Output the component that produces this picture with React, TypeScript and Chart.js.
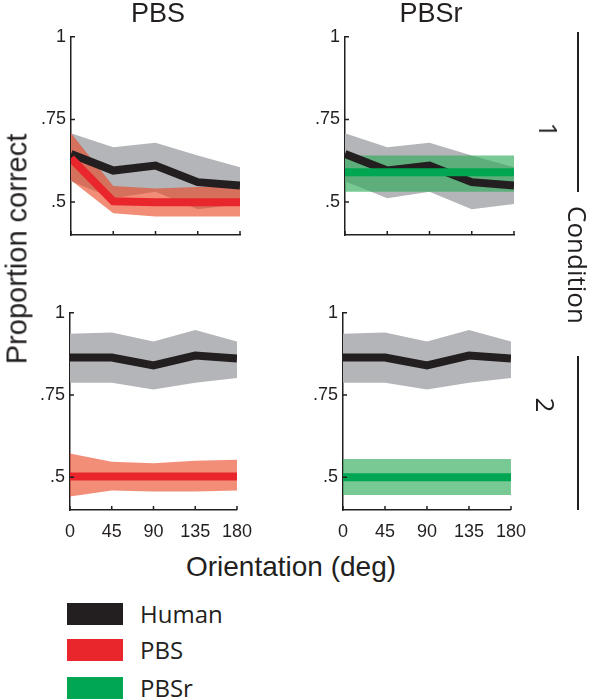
import React, { useEffect, useRef } from "react";
import { Chart, registerables } from "chart.js";
Chart.register(...registerables);

// ---- data ----
const orientations = [0, 45, 90, 135, 180];
const yTickValues = [0.5, 0.75, 1];
const yTickLabels = [".5", ".75", "1"];

// Condition 1
const human1Mean = [0.645, 0.595, 0.61, 0.56, 0.55];
const human1Upper = [0.708, 0.666, 0.679, 0.641, 0.605];
const human1Lower = [0.563, 0.511, 0.531, 0.478, 0.494];
const pbs1Mean = [0.632, 0.502, 0.499, 0.499, 0.499];
const pbs1Upper = [0.708, 0.548, 0.541, 0.545, 0.547];
const pbs1Lower = [0.566, 0.466, 0.456, 0.456, 0.456];
const pbsr1Mean = [0.59, 0.59, 0.59, 0.59, 0.59];
const pbsr1Upper = [0.641, 0.641, 0.641, 0.641, 0.641];
const pbsr1Lower = [0.531, 0.531, 0.531, 0.531, 0.531];

// Condition 2
const human2Mean = [0.864, 0.864, 0.84, 0.87, 0.861];
const human2Upper = [0.936, 0.94, 0.913, 0.948, 0.913];
const human2Lower = [0.787, 0.787, 0.767, 0.787, 0.802];
const pbs2Mean = [0.502, 0.502, 0.502, 0.502, 0.502];
const pbs2Upper = [0.572, 0.547, 0.542, 0.55, 0.553];
const pbs2Lower = [0.441, 0.459, 0.456, 0.456, 0.459];
const pbsr2Mean = [0.5, 0.5, 0.5, 0.5, 0.5];
const pbsr2Upper = [0.555, 0.555, 0.555, 0.555, 0.555];
const pbsr2Lower = [0.446, 0.446, 0.446, 0.446, 0.446];

const columnTitles = ["PBS", "PBSr"];
const conditionLabels = ["1", "2"];
const legendLabels = ["Human", "PBS", "PBSr"];

// ---- styles ----
const BLACK = "#231f20";
const GRAY = "#b3b5b8";
const RED = "#e8262b";
const RED_BAND = "rgba(234,66,28,0.6)";
const GREEN = "#00a651";
const GREEN_BAND = "rgba(44,170,87,0.64)";
const AXIS_FONT = "'Liberation Sans', Arial, Helvetica, sans-serif";
const LABEL_FONT = "'Open Sans', 'Noto Sans', sans-serif";

const YW = 50;
const XH = 40;
const PAD_T = 14;
const PAD_R = 24;

const inwardTicks = {
  id: "inwardTicks",
  afterDatasetsDraw(chart: any) {
    const { ctx, chartArea: a, scales } = chart;
    const x = scales.x;
    const y = scales.y;
    ctx.save();
    ctx.strokeStyle = BLACK;
    ctx.lineWidth = 1.5;
    ctx.beginPath();
    for (const v of orientations) {
      const px = x.getPixelForValue(v);
      ctx.moveTo(px, a.bottom);
      ctx.lineTo(px, a.bottom - 4);
    }
    for (const v of yTickValues) {
      const py = y.getPixelForValue(v);
      ctx.moveTo(a.left, py);
      ctx.lineTo(a.left + 4, py);
    }
    ctx.stroke();
    ctx.restore();
  },
};

function series(vals: number[], extra: any) {
  return {
    data: orientations.map((x, i) => ({ x, y: vals[i] })),
    pointRadius: 0,
    pointHoverRadius: 0,
    tension: 0,
    borderWidth: 0,
    borderColor: "transparent",
    fill: false,
    ...extra,
  };
}

type PanelProps = {
  left: number;
  top: number;
  width: number;
  height: number;
  hM: number[];
  hU: number[];
  hL: number[];
  mM: number[];
  mU: number[];
  mL: number[];
  lineColor: string;
  bandColor: string;
  showX: boolean;
};

function Panel(p: PanelProps) {
  const ref = useRef<HTMLCanvasElement | null>(null);
  useEffect(() => {
    if (!ref.current) return;
    const chart = new Chart(ref.current, {
      type: "line",
      data: {
        datasets: [
          series(p.hU, { fill: "+1", backgroundColor: GRAY, order: 6 }),
          series(p.hL, { order: 6 }),
          series(p.mU, { fill: "+1", backgroundColor: p.bandColor, order: 5 }),
          series(p.mL, { order: 5 }),
          series(p.hM, { borderColor: BLACK, borderWidth: 8, order: 4 }),
          series(p.mM, { borderColor: p.lineColor, borderWidth: 8, order: 3 }),
        ] as any,
      },
      options: {
        animation: false,
        responsive: true,
        maintainAspectRatio: false,
        events: [],
        layout: { padding: { left: 0, top: PAD_T, right: PAD_R, bottom: 0 } },
        plugins: { legend: { display: false }, tooltip: { enabled: false } },
        scales: {
          x: {
            type: "linear",
            min: 0,
            max: 180,
            afterBuildTicks: (s: any) => {
              s.ticks = orientations.map((v) => ({ value: v }));
            },
            afterFit: (s: any) => {
              s.height = XH;
            },
            grid: { display: false, drawTicks: false },
            border: { display: true, color: BLACK, width: 1.5 },
            ticks: {
              display: p.showX,
              color: BLACK,
              padding: 11,
              maxRotation: 0,
              autoSkip: false,
              font: { family: AXIS_FONT, size: 18 },
              callback: (v: any) => String(v),
            },
          },
          y: {
            type: "linear",
            min: 0.4,
            max: 1,
            afterBuildTicks: (s: any) => {
              s.ticks = yTickValues.map((v) => ({ value: v }));
            },
            afterFit: (s: any) => {
              s.width = YW;
            },
            grid: { display: false, drawTicks: false },
            border: { display: true, color: BLACK, width: 1.5 },
            ticks: {
              color: BLACK,
              padding: 5,
              autoSkip: false,
              font: { family: AXIS_FONT, size: 18 },
              callback: (_v: any, i: number) => yTickLabels[i],
            },
          },
        },
      } as any,
      plugins: [inwardTicks],
    });
    return () => chart.destroy();
  }, []);
  return (
    <div
      style={{
        position: "absolute",
        left: p.left - YW,
        top: p.top - PAD_T,
        width: p.width + YW + PAD_R,
        height: p.height + PAD_T + XH,
      }}
    >
      <canvas ref={ref} />
    </div>
  );
}

function Txt(props: {
  x: number;
  y: number;
  size: number;
  family: string;
  rot?: number;
  align?: "center" | "left";
  children: any;
}) {
  const { x, y, size, family, rot = 0, align = "center", children } = props;
  const tx = align === "center" ? "-50%" : "0";
  return (
    <div
      style={{
        position: "absolute",
        left: x,
        top: y,
        fontSize: size,
        fontFamily: family,
        color: BLACK,
        lineHeight: 1,
        whiteSpace: "nowrap",
        transform: `translate(${tx}, -50%) rotate(${rot}deg)`,
        transformOrigin: align === "center" ? "50% 50%" : "0 50%",
      }}
    >
      {children}
    </div>
  );
}

export default function App() {
  const legendColors = [BLACK, RED, GREEN];
  const legendY = [603, 639, 677];
  return (
    <div
      style={{
        position: "absolute",
        left: 0,
        top: 0,
        width: 600,
        height: 699,
        background: "#fff",
        overflow: "hidden",
      }}
    >
      <Panel left={71} top={35} width={169} height={200} hM={human1Mean} hU={human1Upper} hL={human1Lower}
        mM={pbs1Mean} mU={pbs1Upper} mL={pbs1Lower} lineColor={RED} bandColor={RED_BAND} showX={false} />
      <Panel left={345} top={35} width={169} height={200} hM={human1Mean} hU={human1Upper} hL={human1Lower}
        mM={pbsr1Mean} mU={pbsr1Upper} mL={pbsr1Lower} lineColor={GREEN} bandColor={GREEN_BAND} showX={false} />
      <Panel left={70} top={311} width={169} height={199} hM={human2Mean} hU={human2Upper} hL={human2Lower}
        mM={pbs2Mean} mU={pbs2Upper} mL={pbs2Lower} lineColor={RED} bandColor={RED_BAND} showX={true} />
      <Panel left={343} top={311} width={170} height={199} hM={human2Mean} hU={human2Upper} hL={human2Lower}
        mM={pbsr2Mean} mU={pbsr2Upper} mL={pbsr2Lower} lineColor={GREEN} bandColor={GREEN_BAND} showX={true} />

      <Txt x={158} y={13} size={27} family={AXIS_FONT}>{columnTitles[0]}</Txt>
      <Txt x={431} y={13} size={27} family={AXIS_FONT}>{columnTitles[1]}</Txt>

      <Txt x={17} y={249} size={29} family={AXIS_FONT} rot={-90}>Proportion correct</Txt>
      <Txt x={291} y={567} size={28} family={AXIS_FONT}>Orientation (deg)</Txt>

      <div style={{ position: "absolute", left: 577, top: 32, width: 2, height: 160, background: BLACK }} />
      <div style={{ position: "absolute", left: 577, top: 356, width: 2, height: 154, background: BLACK }} />
      <Txt x={549} y={130} size={26} family={LABEL_FONT} rot={90}>{conditionLabels[0]}</Txt>
      <Txt x={546} y={405} size={26} family={LABEL_FONT} rot={90}>{conditionLabels[1]}</Txt>
      <Txt x={578} y={265} size={26} family={LABEL_FONT} rot={90}>Condition</Txt>

      {legendLabels.map((lab, i) => (
        <React.Fragment key={lab}>
          <div style={{ position: "absolute", left: 67, top: legendY[i], width: 56, height: 22, background: legendColors[i] }} />
          <Txt x={140} y={legendY[i] + 11} size={24} family={LABEL_FONT} align="left">{lab}</Txt>
        </React.Fragment>
      ))}
    </div>
  );
}
